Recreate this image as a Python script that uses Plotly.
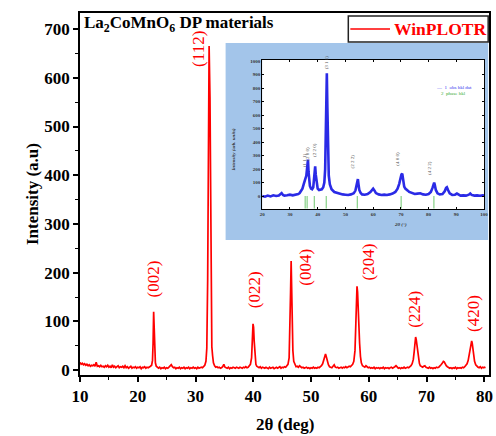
import plotly.graph_objects as go

# ---- main XRD scan (2theta in degrees, intensity in a.u.) ----
two_theta = [
    10.0, 10.2, 10.4, 10.6, 10.8, 11.0, 11.2, 11.4, 11.6, 11.8,
    12.0, 12.2, 12.4, 12.6, 12.8, 13.0, 13.2, 13.4, 13.6, 13.8,
    14.0, 14.2, 14.4, 14.6, 14.8, 15.0, 15.2, 15.4, 15.6, 15.8,
    16.0, 16.2, 16.4, 16.6, 16.8, 17.0, 17.2, 17.4, 17.6, 17.8,
    18.0, 18.2, 18.4, 18.6, 18.8, 19.0, 19.2, 19.4, 19.6, 19.8,
    20.0, 20.2, 20.4, 20.6, 20.8, 21.0, 21.2, 21.4, 21.6, 21.8,
    22.0, 22.2, 22.4, 22.55, 22.65, 22.75, 22.85, 22.95, 23.05, 23.2,
    23.4, 23.6, 23.8, 24.0, 24.2, 24.4, 24.6, 24.8, 25.0, 25.2,
    25.4, 25.6, 25.8, 26.0, 26.2, 26.4, 26.6, 26.8, 27.0, 27.2,
    27.4, 27.6, 27.8, 28.0, 28.2, 28.4, 28.6, 28.8, 29.0, 29.2,
    29.4, 29.6, 29.8, 30.0, 30.2, 30.4, 30.6, 30.8, 31.0, 31.2,
    31.4, 31.6, 31.8, 31.95, 32.1, 32.25, 32.35, 32.5, 32.6, 32.72,
    32.82, 32.95, 33.1, 33.3, 33.5, 33.7, 33.9, 34.1, 34.3, 34.5,
    34.7, 34.9, 35.1, 35.3, 35.5, 35.7, 35.9, 36.1, 36.3, 36.5,
    36.7, 36.9, 37.1, 37.3, 37.5, 37.7, 37.9, 38.1, 38.3, 38.5,
    38.7, 38.9, 39.1, 39.3, 39.5, 39.7, 39.85, 39.95, 40.05, 40.15,
    40.3, 40.45, 40.6, 40.8, 41.0, 41.2, 41.4, 41.6, 41.8, 42.0,
    42.2, 42.4, 42.6, 42.8, 43.0, 43.2, 43.4, 43.6, 43.8, 44.0,
    44.2, 44.4, 44.6, 44.8, 45.0, 45.2, 45.4, 45.6, 45.8, 46.0,
    46.2, 46.35, 46.45, 46.55, 46.65, 46.75, 46.85, 47.0, 47.2, 47.4,
    47.6, 47.8, 48.0, 48.2, 48.4, 48.6, 48.8, 49.0, 49.2, 49.4,
    49.6, 49.8, 50.0, 50.2, 50.4, 50.6, 50.8, 51.0, 51.2, 51.4,
    51.6, 51.8, 52.0, 52.2, 52.35, 52.5, 52.65, 52.8, 53.0, 53.2,
    53.4, 53.6, 53.8, 54.0, 54.2, 54.4, 54.6, 54.8, 55.0, 55.2,
    55.4, 55.6, 55.8, 56.0, 56.2, 56.4, 56.6, 56.8, 57.0, 57.2,
    57.4, 57.6, 57.75, 57.85, 57.95, 58.05, 58.15, 58.25, 58.4, 58.55,
    58.7, 58.9, 59.1, 59.3, 59.5, 59.7, 59.9, 60.1, 60.3, 60.5,
    60.7, 60.9, 61.1, 61.3, 61.5, 61.7, 61.9, 62.1, 62.3, 62.5,
    62.7, 62.9, 63.1, 63.3, 63.5, 63.7, 63.9, 64.1, 64.3, 64.5,
    64.7, 64.9, 65.1, 65.3, 65.5, 65.7, 65.9, 66.1, 66.3, 66.5,
    66.7, 66.9, 67.1, 67.3, 67.5, 67.7, 67.85, 68.0, 68.1, 68.2,
    68.3, 68.45, 68.6, 68.75, 68.9, 69.1, 69.3, 69.5, 69.7, 69.9,
    70.1, 70.3, 70.5, 70.7, 70.9, 71.1, 71.3, 71.5, 71.7, 71.9,
    72.1, 72.3, 72.5, 72.7, 72.9, 73.05, 73.2, 73.4, 73.6, 73.8,
    74.0, 74.2, 74.4, 74.6, 74.8, 75.0, 75.2, 75.4, 75.6, 75.8,
    76.0, 76.2, 76.4, 76.6, 76.8, 77.0, 77.2, 77.4, 77.55, 77.7,
    77.8, 77.9, 78.0, 78.15, 78.3, 78.5, 78.7, 78.9, 79.1, 79.3,
    79.5, 79.7, 79.9, 80.0, 80.2,
]
intensity = [
    16, 12, 14, 11, 13, 10, 12, 9, 11, 8,
    10, 9, 11, 8, 16, 8, 9, 7, 10, 7,
    8, 6, 9, 7, 10, 6, 8, 5, 11, 6,
    8, 5, 7, 9, 5, 7, 6, 8, 5, 9,
    5, 7, 4, 6, 8, 4, 6, 5, 7, 4,
    6, 5, 7, 3, 6, 5, 7, 4, 6, 5,
    6, 8, 10, 20, 55, 120, 85, 40, 15, 8,
    6, 4, 6, 3, 5, 4, 6, 3, 5, 4,
    6, 9, 11, 7, 5, 6, 3, 5, 4, 6,
    3, 5, 4, 6, 3, 5, 4, 6, 3, 5,
    4, 6, 4, 5, 3, 6, 4, 5, 6, 5,
    7, 10, 18, 45, 185, 400, 665, 560, 300, 120,
    48, 30, 15, 9, 6, 7, 5, 6, 4, 5,
    7, 12, 6, 5, 4, 6, 3, 5, 4, 6,
    5, 4, 6, 5, 4, 6, 5, 4, 6, 5,
    7, 5, 6, 8, 12, 25, 60, 95, 88, 60,
    22, 12, 8, 6, 5, 7, 4, 6, 5, 4,
    6, 5, 3, 6, 4, 5, 6, 3, 5, 6,
    4, 5, 7, 4, 6, 5, 7, 6, 9, 12,
    25, 85, 160, 224, 150, 85, 40, 18, 10, 7,
    8, 6, 9, 7, 5, 6, 4, 5, 6, 4,
    5, 3, 5, 4, 6, 4, 5, 4, 6, 5,
    7, 9, 13, 22, 30, 33, 27, 18, 11, 7,
    6, 5, 8, 11, 6, 5, 6, 4, 5, 6,
    4, 6, 5, 7, 5, 6, 8, 7, 9, 12,
    18, 40, 95, 130, 172, 160, 120, 95, 55, 28,
    15, 9, 7, 6, 9, 6, 5, 6, 4, 5,
    4, 6, 3, 5, 4, 5, 3, 5, 4, 6,
    3, 5, 4, 5, 3, 5, 6, 4, 5, 7,
    9, 6, 4, 5, 3, 5, 4, 6, 4, 5,
    6, 5, 7, 9, 13, 22, 38, 55, 68, 63,
    52, 38, 24, 14, 9, 7, 6, 8, 9, 6,
    5, 4, 6, 4, 5, 3, 5, 4, 6, 5,
    6, 8, 11, 14, 18, 17, 13, 9, 7, 6,
    4, 5, 3, 5, 4, 6, 3, 5, 4, 5,
    4, 6, 5, 7, 9, 13, 20, 33, 45, 52,
    60, 55, 44, 30, 18, 11, 7, 6, 5, 7,
    4, 6, 5, 6, 5,
]

# Miller-index labels: text, 2theta position, label centre height
hkl_labels = ["(002)", "(112)", "(022)", "(004)", "(204)", "(224)", "(420)"]
hkl_x = [22.7, 30.4, 40.1, 49.1, 60.1, 68.0, 78.0]
hkl_y = [187, 659, 166, 212, 222, 124, 117]

x_ticks = [10, 20, 30, 40, 50, 60, 70, 80]
y_ticks = [0, 100, 200, 300, 400, 500, 600, 700]

# ---- WinPLOTR refinement inset ----
inset_x = [
    20, 21, 22, 23, 24, 25, 26, 26.5, 27, 27.5,
    28, 29, 30, 31, 32, 33, 33.5, 34, 34.5, 35,
    35.3, 35.6, 35.9, 36.1, 36.3, 36.5, 36.7, 36.9, 37.2, 37.6,
    38, 38.4, 38.7, 38.9, 39.1, 39.3, 39.6, 40, 40.5, 41,
    41.5, 42, 42.4, 42.7, 42.9, 43.1, 43.3, 43.5, 43.7, 44,
    44.4, 45, 46, 47, 48, 49, 50, 51, 52, 53,
    53.6, 54, 54.3, 54.5, 54.7, 55, 55.5, 56, 57, 58,
    59, 59.5, 60, 60.5, 61, 62, 63, 64, 65, 66,
    67, 68, 68.8, 69.4, 69.8, 70.2, 70.5, 70.8, 71.2, 71.6,
    72, 72.5, 73, 74, 75, 76, 77, 78, 79, 80,
    80.8, 81.4, 81.8, 82, 82.2, 82.6, 83.2, 84, 85, 85.8,
    86.3, 86.6, 87, 87.6, 88.5, 89.5, 90.2, 90.8, 91.5, 92.5,
    93.5, 94.5, 95, 95.5, 96.5, 97.5, 98.5, 99.5, 100,
]
inset_y = [
    0, -5, 3, -3, 5, 0, 4, 10, 22, 8,
    3, 6, 10, 5, 8, 15, 22, 35, 55, 90,
    120, 130, 150, 200, 265, 270, 180, 110, 75, 55,
    50, 65, 120, 200, 220, 160, 90, 55, 45, 45,
    50, 65, 100, 200, 450, 780, 910, 650, 330, 150,
    85, 50, 30, 22, 15, 12, 10, 8, 12, 20,
    40, 80, 115, 125, 90, 45, 22, 12, 10, 15,
    30, 45, 55, 40, 22, 12, 8, 10, 8, 12,
    18, 30, 55, 90, 130, 160, 165, 120, 70, 55,
    50, 40, 30, 20, 15, 18, 20, 12, 10, 15,
    30, 60, 95, 100, 85, 45, 20, 12, 15, 35,
    60, 65, 45, 20, 8, 10, 18, 10, 3, 5,
    3, 10, 18, 8, 3, 5, 2, 5, 3,
]
# Bragg reflection markers
bragg_pos = [35.5, 36.2, 38.8, 43.1, 54.3, 70.1, 81.9]
bragg_top = 0
bragg_bottom = -92
inset_hkl = ["(1 1 1)", "(2 0 0)", "(2 2 0)", "(3 1 1)", "(2 2 2)", "(4 0 0)", "(4 2 2)"]
inset_hkl_y = [267, 315, 344, 1059, 255, 274, 211]

SERIF = "Liberation Serif"
RED = "#ff0000"

# inset axes placement (paper fractions) and ranges
IX_DOM = [0.4455, 0.988]
IY_DOM = [0.4586, 0.870]
IX_RANGE = [20, 100]
IY_RANGE = [-96, 1007]


def inset_paper(xv, yv):
    """Convert inset data coordinates to paper fractions."""
    px = IX_DOM[0] + (xv - IX_RANGE[0]) / (IX_RANGE[1] - IX_RANGE[0]) * (IX_DOM[1] - IX_DOM[0])
    py = IY_DOM[0] + (yv - IY_RANGE[0]) / (IY_RANGE[1] - IY_RANGE[0]) * (IY_DOM[1] - IY_DOM[0])
    return px, py


fig = go.Figure()

fig.add_trace(go.Scatter(
    x=two_theta, y=intensity, mode="lines",
    line=dict(color=RED, width=1.7), showlegend=False,
    xaxis="x", yaxis="y",
))

# Bragg ticks as separated vertical segments
bx, by = [], []
for p in bragg_pos:
    bx += [p, p, None]
    by += [bragg_bottom, bragg_top, None]
fig.add_trace(go.Scatter(
    x=bx, y=by, mode="lines", line=dict(color="#8fd48f", width=1.3),
    showlegend=False, xaxis="x2", yaxis="y2",
))
fig.add_trace(go.Scatter(
    x=inset_x, y=inset_y, mode="lines",
    line=dict(color="#2a2ae6", width=2.6), showlegend=False,
    xaxis="x2", yaxis="y2",
))

axis_font = dict(family=SERIF, size=17, color="black", weight="bold")
small_font = dict(family=SERIF, size=5, color="#333333", weight="bold")

fig.update_layout(
    width=496, height=436,
    margin=dict(l=80, r=3, t=13, b=61),
    paper_bgcolor="white", plot_bgcolor="rgba(0,0,0,0)",
    xaxis=dict(
        range=[10, 80.8], tickvals=x_ticks, ticks="outside", ticklen=5,
        tickwidth=1.5, tickcolor="black", showline=True, linecolor="black",
        linewidth=1.6, mirror=True, showgrid=False, zeroline=False,
        tickfont=axis_font,
        minor=dict(dtick=5, tick0=5, ticks="outside", ticklen=3,
                   tickwidth=1.2, tickcolor="black", showgrid=False),
    ),
    yaxis=dict(
        range=[-10, 733], tickvals=y_ticks, ticks="outside", ticklen=5,
        tickwidth=1.5, tickcolor="black", showline=True, linecolor="black",
        linewidth=1.6, mirror=True, showgrid=False, zeroline=False,
        tickfont=axis_font,
        minor=dict(dtick=50, tick0=50, ticks="outside", ticklen=3,
                   tickwidth=1.2, tickcolor="black", showgrid=False),
    ),
    xaxis2=dict(
        domain=IX_DOM, anchor="y2", range=IX_RANGE, dtick=10,
        ticks="inside", ticklen=2, tickwidth=0.8, tickcolor="black",
        showline=True, linecolor="black", linewidth=1, mirror="ticks",
        showgrid=False, zeroline=False, tickfont=small_font,
    ),
    yaxis2=dict(
        domain=IY_DOM, anchor="x2", range=IY_RANGE, dtick=100,
        ticks="inside", ticklen=2, tickwidth=0.8, tickcolor="black",
        showline=True, linecolor="black", linewidth=1, mirror="ticks",
        showgrid=False, zeroline=False, tickfont=small_font,
    ),
)

shapes = [
    # inset backdrop and its white plotting area
    dict(type="rect", xref="paper", yref="paper", x0=0.356, x1=0.998,
         y0=0.373, y1=0.917, fillcolor="#a3c5ea", line=dict(width=0),
         layer="below"),
    dict(type="rect", xref="paper", yref="paper", x0=IX_DOM[0], x1=IX_DOM[1],
         y0=IY_DOM[0], y1=IY_DOM[1], fillcolor="white", line=dict(width=0),
         layer="below"),
    # legend box
    dict(type="rect", xref="paper", yref="paper", x0=0.656, x1=0.998,
         y0=0.9199, y1=0.9917, fillcolor="white",
         line=dict(color="#222222", width=1.5), layer="above"),
    dict(type="line", xref="paper", yref="paper", x0=0.661, x1=0.758,
         y0=0.9558, y1=0.9558, line=dict(color=RED, width=1.6),
         layer="above"),
]
fig.update_layout(shapes=shapes)

ann = []
for t, xv, yv in zip(hkl_labels, hkl_x, hkl_y):
    ann.append(dict(text=t, x=xv, y=yv, xref="x", yref="y", showarrow=False,
                    textangle=-90, xanchor="center", yanchor="middle",
                    font=dict(family=SERIF, size=17, color=RED)))

# tiny reflection labels of the inset, placed in paper space so the one
# above the frame is not hidden
for t, xv, yv in zip(inset_hkl, bragg_pos, inset_hkl_y):
    px, py = inset_paper(xv, yv)
    ann.append(dict(text=t, x=px, y=py, xref="paper", yref="paper",
                    showarrow=False, textangle=-90,
                    font=dict(family=SERIF, size=5, color="#555555")))

ann += [
    dict(text="La<sub>2</sub>CoMnO<sub>6</sub> DP materials", x=0.005,
         y=0.9696, xref="paper", yref="paper", xanchor="left",
         yanchor="middle", showarrow=False,
         font=dict(family=SERIF, size=17, color="black", weight="bold")),
    dict(text="WinPLOTR", x=0.7627, y=0.9558, xref="paper", yref="paper",
         xanchor="left", yanchor="middle", showarrow=False,
         font=dict(family=SERIF, size=17.5, color=RED, weight="bold")),
    dict(text="Intensity (a.u)", x=-0.1453, y=0.5, xref="paper",
         yref="paper", textangle=-90, showarrow=False,
         font=dict(family=SERIF, size=17, color="black", weight="bold")),
    dict(text="2θ (deg)", x=0.5, y=-0.138, xref="paper", yref="paper",
         showarrow=False, yanchor="middle",
         font=dict(family=SERIF, size=17, color="black", weight="bold")),
    # inset axis titles and key
    dict(text="<i>Intensity (arb. units)</i>", x=0.375, y=0.69,
         xref="paper", yref="paper", textangle=-90, showarrow=False,
         font=dict(family=SERIF, size=5, color="#333333", weight="bold")),
    dict(text="<i>2θ (°)</i>", x=0.805, y=0.415, xref="paper", yref="paper",
         showarrow=False,
         font=dict(family=SERIF, size=5, color="#333333", weight="bold")),
    dict(text="—  1  obs hkl dat", x=0.865, y=0.807, xref="paper",
         yref="paper", xanchor="left", showarrow=False,
         font=dict(family=SERIF, size=5, color="#3333ee")),
    dict(text="    2  phase hkl", x=0.865, y=0.790, xref="paper",
         yref="paper", xanchor="left", showarrow=False,
         font=dict(family=SERIF, size=5, color="#33aa33")),
]
fig.update_layout(annotations=ann)

fig.write_html("out.html")
